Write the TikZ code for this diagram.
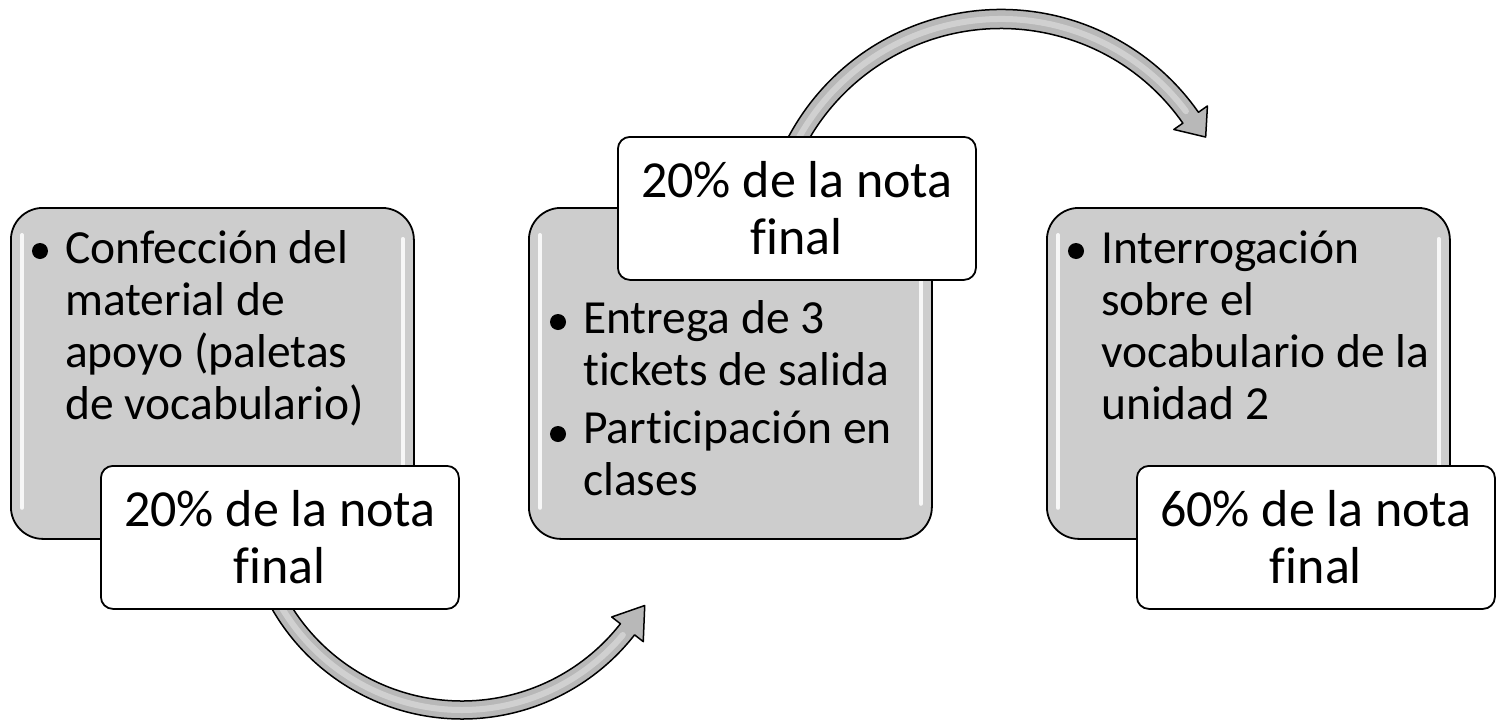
\documentclass[tikz,border=0pt]{standalone}
\usepackage{fontspec}
\setmainfont{Carlito}[Ligatures=NoCommon]
\usetikzlibrary{calc}
\definecolor{boxgray}{RGB}{205,205,205}
\definecolor{arrowgray}{RGB}{184,184,184}
\begin{document}
\begin{tikzpicture}[x=1pt,y=-1pt,line join=round]
	\tikzset{
		graybox/.style={draw=black, line width=1.8pt, fill=boxgray, rounded corners=32pt,
			minimum width=403pt, minimum height=331pt, anchor=north west, inner sep=0pt},
		notebox/.style={draw=black, line width=1.8pt, fill=white, rounded corners=12pt,
			minimum width=358pt, minimum height=143pt, anchor=north west, inner sep=0pt,
			align=center, font=\fontsize{52}{57}\selectfont},
		itemtext/.style={anchor=base west, inner sep=0pt, font=\fontsize{47.5}{52.3}\selectfont},
		dotmark/.style={circle, fill=black, minimum size=16pt, inner sep=0pt},
		shine/.style={white, line width=4pt, line cap=round, opacity=0.85},
		bendarrow/.style={draw=black, line width=1.5pt, fill=arrowgray},
		shaftshine/.style={white, line width=6pt, opacity=0.35, line cap=round}
	}
	\fill[white] (0,0) rectangle (1499,723);
	\useasboundingbox (0,0) rectangle (1499,723);
	% centres of the two bent arrows
	\coordinate (arc1) at (462,500);
	\coordinate (arc2) at (1001,250.5);
	\begin{scope}[shift={(arc1)}]
		\draw[bendarrow] (152:219) arc[start angle=152, end angle=38, radius=219]
			-- (38:230) -- (30:211) -- (38:190) -- (38:201)
			arc[start angle=38, end angle=152, radius=201] -- cycle;
		\draw[shaftshine] (150:210) arc[start angle=150, end angle=40, radius=210];
	\end{scope}
	\begin{scope}[shift={(arc2)}]
		\draw[bendarrow] (205:241) arc[start angle=205, end angle=325, radius=241]
			-- (325:252) -- (331:234) -- (325:211) -- (325:222)
			arc[start angle=325, end angle=205, radius=222] -- cycle;
		\draw[shaftshine] (207:231.5) arc[start angle=207, end angle=323, radius=231.5];
	\end{scope}
	% gray boxes
	\node[graybox] (g1) at (10,207) {};
	\node[graybox] (g2) at (528,207) {};
	\node[graybox] (g3) at (1046,207) {};
	\foreach \g in {g1,g2,g3}{
		\draw[shine] ($(\g.north west)+(12,28)$) -- ($(\g.south west)+(12,-32)$);
		\draw[shine] ($(\g.north east)+(-12,32)$) -- ($(\g.south east)+(-12,-36)$);
	}
	% bullets
	\node[dotmark] (b1) at ($(g1.north west)+(30,44)$) {};
	\node[dotmark] (b2) at ($(g2.north west)+(30,115)$) {};
	\node[dotmark] (b2b) at ($(g2.north west)+(30,227)$) {};
	\node[dotmark] (b3) at ($(g3.north west)+(30,44)$) {};
	\node[itemtext] (t1) at ($(g1.north west)+(55,56)$) {%
		\begin{tabular}[t]{@{}l@{}}
			Confección del\\
			material de\\
			apoyo (paletas\\
			de vocabulario)
		\end{tabular}};
	\node[itemtext] (t2) at ($(g2.north west)+(55,126)$) {%
		\begin{tabular}[t]{@{}l@{}}
			Entrega de 3\\
			tickets de salida\\[6pt]
			Participación en\\
			clases
		\end{tabular}};
	\node[itemtext] (t3) at ($(g3.north west)+(55,56)$) {%
		\begin{tabular}[t]{@{}l@{}}
			Interrogación\\
			sobre el\\
			vocabulario de la\\
			unidad 2
		\end{tabular}};
	% percentage boxes
	\node[notebox] (w1) at (100,465) {20\% de la nota\\final};
	\node[notebox] (w2) at (617,136) {20\% de la nota\\final};
	\node[notebox] (w3) at (1136,465) {60\% de la nota\\final};
\end{tikzpicture}
\end{document}
